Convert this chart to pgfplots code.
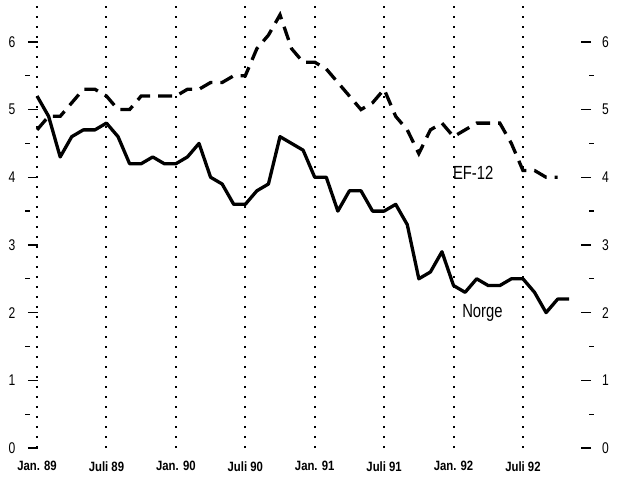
\documentclass[border=0pt]{standalone}
\usepackage{pgfplots}
\pgfplotsset{compat=1.18}
\usepackage{fontspec}
\setmainfont{Liberation Sans}
\usepackage{graphicx}

% narrow look of the original lettering
\newcommand\nar[1]{\scalebox{0.84}[1]{#1}}

\pgfplotstableread{
m  v
0  5.2
1  4.9
2  4.3
3  4.6
4  4.7
5  4.7
6  4.8
7  4.6
8  4.2
9  4.2
10 4.3
11 4.2
12 4.2
13 4.3
14 4.5
15 4.0
16 3.9
17 3.6
18 3.6
19 3.8
20 3.9
21 4.6
22 4.5
23 4.4
24 4.0
25 4.0
26 3.5
27 3.8
28 3.8
29 3.5
30 3.5
31 3.6
32 3.3
33 2.5
34 2.6
35 2.9
36 2.4
37 2.3
38 2.5
39 2.4
40 2.4
41 2.5
42 2.5
43 2.3
44 2.0
45 2.2
46 2.2
}\norge

\pgfplotstableread{
m  v
0  4.7
1  4.9
2  4.9
3  5.1
4  5.3
5  5.3
6  5.2
7  5.0
8  5.0
9  5.2
10 5.2
11 5.2
12 5.2
13 5.3
14 5.3
15 5.4
16 5.4
17 5.5
18 5.5
19 5.9
20 6.1
21 6.4
22 5.9
23 5.7
24 5.7
25 5.6
26 5.4
27 5.2
28 5.0
29 5.1
30 5.3
31 4.9
32 4.7
33 4.35
34 4.7
35 4.8
36 4.6
37 4.7
38 4.8
39 4.8
40 4.8
41 4.5
42 4.1
43 4.1
44 4.0
45 4.0
}\efx

\pgfplotsset{
  frame/.style={
    at={(33pt,35pt)}, anchor=south west,
    scale only axis, width=553pt, height=443pt,
    xmin=-0.35, xmax=47.45, ymin=0, ymax=6.545,
    ytick={0,...,6}, minor y tick num=1,
    tick align=outside,
    ytick style={black, line width=1.3pt},
    major tick length=10pt, minor tick length=4.5pt,
    y axis line style={draw=none,-},
    yticklabel={\scalebox{0.78}[1]{\pgfmathprintnumber[assume math mode=true]{\tick}}},
    yticklabel style={font=\fontsize{15.5}{17}\selectfont},
  },
}

\begin{document}
\begin{tikzpicture}
\path[use as bounding box] (0,0) rectangle (621pt,483pt);
\begin{axis}[
  frame,
  axis x line=bottom, axis y line=left,
  x axis line style={draw=none,-},
  xtick={0,6,...,42},
  xticklabels={\nar{Jan. 89},\nar{Juli 89},\nar{Jan. 90},\nar{Juli 90},
               \nar{Jan. 91},\nar{Juli 91},\nar{Jan. 92},\nar{Juli 92}},
  xticklabel style={font=\bfseries\fontsize{13.5}{15}\selectfont, yshift=-5pt},
  xtick style={draw=none},
  xmajorgrids,
  major grid style={black, line width=2pt, dash pattern=on 2pt off 8pt},
  yticklabel style={xshift=-9pt},
  minor y tick style={xshift=-5.5pt},
  clip=false,
]
\addplot[black, line width=3.3pt, line join=round] table[x=m,y=v] {\norge};
\addplot[black, line width=3.3pt, dash pattern=on 14pt off 8pt] table[x=m,y=v] {\efx};
\node[font=\fontsize{19}{21}\selectfont] at (axis cs:37.7,4.07) {\scalebox{0.78}[1]{EF-12}};
\node[font=\fontsize{19}{21}\selectfont] at (axis cs:38.5,1.99) {\scalebox{0.78}[1]{Norge}};
\end{axis}
\begin{axis}[
  frame,
  axis x line=none, axis y line=right,
  yticklabel style={xshift=7.5pt},
  minor y tick style={xshift=5.5pt},
]
\addplot[draw=none] coordinates {(0,0)};
\end{axis}
\end{tikzpicture}
\end{document}
